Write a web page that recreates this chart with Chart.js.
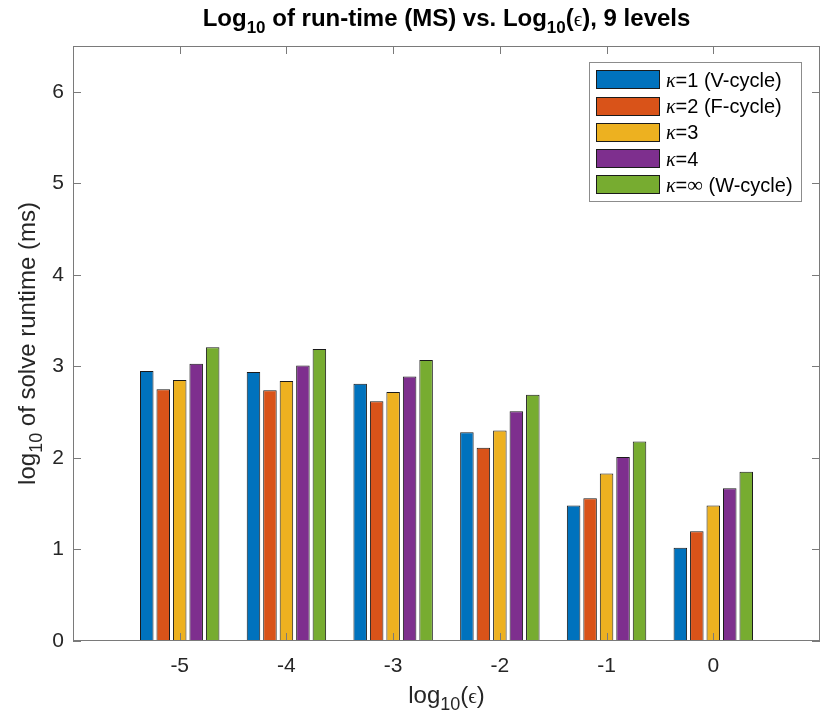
<!DOCTYPE html>
<html>
<head>
<meta charset="utf-8">
<script src="https://cdn.jsdelivr.net/npm/chart.js@4.4.1/dist/chart.umd.min.js"></script>
<style>
  html, body { margin: 0; padding: 0; background: #fff; }
  #wrap { width: 833px; height: 724px; }
</style>
</head>
<body>
<div id="wrap"><canvas id="chart" width="833" height="724"></canvas></div>
<script>
// Data: log10(epsilon) on x, log10 of runtime (ms) on y
const categories = ['-5', '-4', '-3', '-2', '-1', '0'];
const seriesLabels = ['κ=1 (V-cycle)', 'κ=2 (F-cycle)', 'κ=3', 'κ=4', 'κ=∞ (W-cycle)'];
const kappa1 = [2.95, 2.94, 2.81, 2.28, 1.48, 1.02];
const kappa2 = [2.75, 2.74, 2.62, 2.11, 1.56, 1.20];
const kappa3 = [2.85, 2.84, 2.72, 2.30, 1.83, 1.48];
const kappa4 = [3.03, 3.01, 2.89, 2.51, 2.01, 1.67];
const kappaInf = [3.21, 3.19, 3.07, 2.69, 2.18, 1.85];
const yMin = 0;
const yMax = 6.5;

const colors = ['#0072BD', '#D95319', '#EDB120', '#7E2F8E', '#77AC30'];
const SANS = '"Liberation Sans", Arial, Helvetica, sans-serif';
const SERIF = '"Liberation Serif", "DejaVu Serif", serif';
const TEXT = '#262626';

// empty slots at both ends give the axis its -6..1 range
const labels = ['', ...categories, ''];
const pad = arr => [null, ...arr, null];

// Rich text helpers (subscripts, greek in serif)
function drawRich(ctx, parts, x, y, align) {
  let total = 0;
  parts.forEach(p => { ctx.font = p.f; total += ctx.measureText(p.t).width; });
  let cx = align === 'center' ? x - total / 2 : x;
  ctx.textBaseline = 'alphabetic';
  ctx.textAlign = 'left';
  parts.forEach(p => {
    ctx.font = p.f;
    ctx.fillText(p.t, cx, y + (p.dy || 0));
    cx += ctx.measureText(p.t).width;
  });
}

function legendParts(label, size) {
  const parts = [];
  for (const ch of label) {
    let f = `${size}px ${SANS}`;
    if (ch === 'κ') f = `italic ${size}px ${SERIF}`;
    else if (ch === '∞') f = `${size + 2}px ${SERIF}`;
    const last = parts[parts.length - 1];
    if (last && last.f === f) last.t += ch;
    else parts.push({ t: ch, f });
  }
  return parts;
}

// Axes box + inward ticks, drawn over the bars like MATLAB does
const axesBox = {
  id: 'axesBox',
  afterDatasetsDraw(chart) {
    const { ctx, chartArea: a, scales: { x, y } } = chart;
    const len = 8;
    ctx.save();
    ctx.strokeStyle = '#7a7a7a';
    ctx.lineWidth = 1;
    ctx.strokeRect(a.left + 0.5, a.top + 0.5, a.right - a.left - 1, a.bottom - a.top - 1);
    ctx.beginPath();
    x.ticks.forEach((t, i) => {
      if (!labels[t.value]) return;
      const px = Math.round(x.getPixelForTick(i)) + 0.5;
      ctx.moveTo(px, a.bottom); ctx.lineTo(px, a.bottom - len);
      ctx.moveTo(px, a.top); ctx.lineTo(px, a.top + len);
    });
    y.ticks.forEach(t => {
      const py = Math.round(y.getPixelForValue(t.value)) + 0.5;
      ctx.moveTo(a.left, py); ctx.lineTo(a.left + len, py);
      ctx.moveTo(a.right, py); ctx.lineTo(a.right - len, py);
    });
    ctx.stroke();
    ctx.restore();
  },
  afterDraw(chart) {
    const { ctx, chartArea: a } = chart;
    const midX = (a.left + a.right) / 2;
    ctx.save();
    ctx.fillStyle = '#000';

    // Title
    const tb = `bold 24px ${SANS}`, ts = `bold 17px ${SANS}`;
    drawRich(ctx, [
      { t: 'Log', f: tb }, { t: '10', f: ts, dy: 7 },
      { t: ' of run-time (MS) vs. Log', f: tb }, { t: '10', f: ts, dy: 7 },
      { t: '(', f: tb }, { t: 'ϵ', f: `21px ${SERIF}` }, { t: '), 9 levels', f: tb }
    ], midX, 26, 'center');

    // Axis labels
    ctx.fillStyle = TEXT;
    const lf = `24px ${SANS}`, lsub = `18px ${SANS}`;
    drawRich(ctx, [
      { t: 'log', f: lf }, { t: '10', f: lsub, dy: 7 },
      { t: '(', f: lf }, { t: 'ϵ', f: `21px ${SERIF}` }, { t: ')', f: lf }
    ], midX, 703, 'center');

    ctx.save();
    ctx.translate(35, (a.top + a.bottom) / 2);
    ctx.rotate(-Math.PI / 2);
    drawRich(ctx, [
      { t: 'log', f: lf }, { t: '10', f: lsub, dy: 7 },
      { t: ' of solve runtime (ms)', f: lf }
    ], 0, 0, 'center');
    ctx.restore();

    // Legend box inside the axes, top right
    const bw = 212, bh = 139;
    const bx = a.right - 19 - bw, by = a.top + 16;
    ctx.fillStyle = '#fff';
    ctx.fillRect(bx, by, bw, bh);
    ctx.strokeStyle = '#8c8c8c';
    ctx.strokeRect(bx + 0.5, by + 0.5, bw, bh);
    chart.data.datasets.forEach((ds, i) => {
      const cy = by + 17.7 + i * 26.3;
      ctx.fillStyle = ds.backgroundColor;
      ctx.fillRect(bx + 7, Math.round(cy - 9.5), 64, 19);
      ctx.strokeStyle = '#1a1a1a';
      ctx.strokeRect(bx + 7.5, Math.round(cy - 9.5) + 0.5, 63, 18);
      ctx.fillStyle = '#000';
      drawRich(ctx, legendParts(ds.label, 20), bx + 77, cy + 7, 'left');
    });
    ctx.restore();
  }
};

const seriesData = [kappa1, kappa2, kappa3, kappa4, kappaInf];

const chart = new Chart(document.getElementById('chart'), {
  type: 'bar',
  data: {
    labels: labels,
    datasets: seriesData.map((values, i) => ({
      label: seriesLabels[i],
      data: pad(values),
      backgroundColor: colors[i],
      borderColor: '#1a1a1a',
      borderWidth: 1,
      borderSkipped: false,
      categoryPercentage: 0.772,
      barPercentage: 0.82
    }))
  },
  options: {
    responsive: false,
    animation: false,
    events: [],
    layout: { padding: { top: 46, right: 4, left: 0, bottom: 0 } },
    plugins: { legend: { display: false }, tooltip: { enabled: false }, title: { display: false } },
    scales: {
      x: {
        offset: false,
        grid: { display: false, drawTicks: false },
        border: { display: false },
        ticks: { font: { family: SANS, size: 21 }, color: TEXT, padding: 13, maxRotation: 0, autoSkip: false },
        afterFit(s) { s.height = 83; }
      },
      y: {
        min: yMin,
        max: yMax,
        grid: { display: false, drawTicks: false },
        border: { display: false },
        ticks: { stepSize: 1, includeBounds: false, font: { family: SANS, size: 21 }, color: TEXT, padding: 9 },
        afterFit(s) { s.width = 73; }
      }
    }
  },
  plugins: [axesBox]
});
</script>
</body>
</html>
